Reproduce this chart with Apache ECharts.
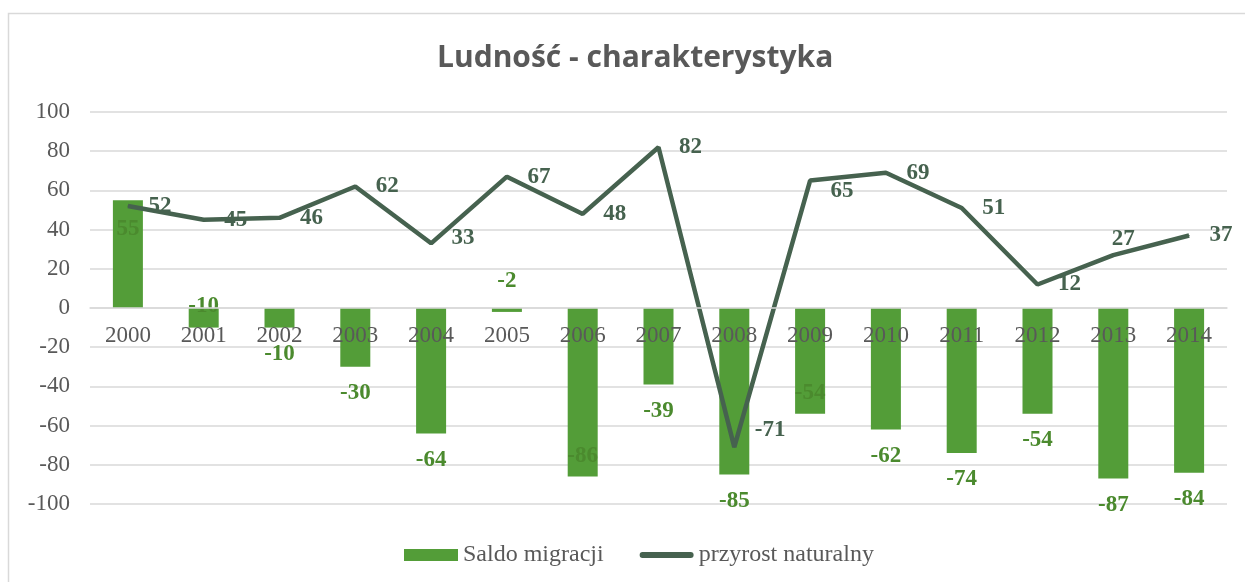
<!DOCTYPE html>
<html lang="pl">

<head>
    <meta charset="utf-8">
    <title>Ludność - charakterystyka</title>
    <script src="https://cdn.jsdelivr.net/npm/echarts@6/dist/echarts.min.js"></script>
    <style>
        html, body { margin: 0; padding: 0; background: #fff; }
        #main { width: 1245px; height: 582px; }
    </style>
</head>

<body>
    <div id="main"></div>
</body>

<script>
    // dane
    var lata = ['2000', '2001', '2002', '2003', '2004', '2005', '2006', '2007',
        '2008', '2009', '2010', '2011', '2012', '2013', '2014'];
    var saldoMigracji = [55, -10, -10, -30, -64, -2, -86, -39, -85, -54, -62, -74, -54, -87, -84];
    var przyrostNaturalny = [52, 45, 46, 62, 33, 67, 48, 82, -71, 65, 69, 51, 12, 27, 37];

    // polozenie etykiet (jak w oryginale z Excela)
    var pozycjeSlupkow = ['insideTop', 'top', 'bottom', 'bottom', 'bottom', 'top', 'insideBottom', 'bottom',
        'bottom', 'insideBottom', 'bottom', 'bottom', 'bottom', 'bottom', 'bottom'];
    var pozycjeLinii = ['right', 'right', 'right', 'right', 'right', 'right', 'right', 'right',
        'right', 'right', 'right', 'right', 'right', 'top', 'right'];

    var serif = '"Liberation Serif", "DejaVu Serif", serif';

    var daneSlupki = saldoMigracji.map(function (v, i) {
        var lab = { position: pozycjeSlupkow[i] };
        if (i == 0) lab.offset = [0, 2];
        if (i == 1) lab.offset = [0, 25];
        if (i == 6 || i == 9) lab.offset = [0, 6];
        return { value: v, label: lab };
    });
    var daneLinia = przyrostNaturalny.map(function (v, i) {
        var lab = { position: pozycjeLinii[i] };
        if (i == 4) lab.offset = [0, -5];
        if (i == 8) lab.offset = [0, -17];
        if (i == 9) lab.offset = [0, 10];
        if (i == 13) lab.offset = [10, 16];
        return { value: v, label: lab };
    });

    // ikona linii w legendzie: cienka kreska z zaokraglonymi koncami
    var ikonaLinii = 'path://M0,0h0.01v0.01h-0.01z M56,12h0.01v0.01h-0.01z ' +
        'M3,3 L53,3 A3,3 0 0 1 53,9 L3,9 A3,3 0 0 1 3,3 Z';

    var myChart = echarts.init(document.getElementById('main'));
    var option = {
        animation: false,
        title: {
            text: 'Ludność - charakterystyka',
            left: 432,
            top: 38,
            textStyle: {
                fontFamily: '"Open Sans", Lato, sans-serif',
                fontWeight: 'bold',
                fontSize: 30,
                color: '#595959'
            }
        },
        graphic: [{
            type: 'rect',
            shape: { x: 8.5, y: 13.5, width: 1260, height: 600 },
            style: { fill: 'none', stroke: '#d9d9d9', lineWidth: 1.5 },
            silent: true
        }],
        legend: {
            bottom: 10,
            left: 399,
            itemGap: 36,
            itemWidth: 54,
            itemHeight: 12,
            textStyle: { fontFamily: serif, fontSize: 24, color: '#595959' },
            data: [
                { name: 'Saldo migracji', icon: 'rect' },
                { name: 'przyrost naturalny', icon: ikonaLinii, itemStyle: { color: '#46624f' } }
            ]
        },
        grid: { left: 90, right: 18, top: 112, bottom: 78 },
        xAxis: {
            type: 'category',
            data: lata,
            position: 'bottom',
            offset: -196,
            z: 5,
            axisLine: { onZero: false, lineStyle: { color: '#d9d9d9', width: 1.5 } },
            axisTick: { show: false },
            axisLabel: { fontFamily: serif, fontSize: 23, color: '#595959', margin: 16 }
        },
        yAxis: {
            type: 'value',
            min: -100,
            max: 100,
            interval: 20,
            axisLine: { show: false },
            axisTick: { show: false },
            axisLabel: { fontFamily: serif, fontSize: 23, color: '#595959', margin: 20 },
            splitLine: { lineStyle: { color: '#d9d9d9', width: 1.5 } }
        },
        series: [{
            name: 'Saldo migracji',
            type: 'bar',
            barWidth: 30,
            data: daneSlupki,
            itemStyle: { color: '#539d38' },
            label: {
                show: true,
                distance: 15,
                fontFamily: serif,
                fontWeight: 'bold',
                fontSize: 23,
                color: '#4b8a2e'
            }
        }, {
            name: 'przyrost naturalny',
            type: 'line',
            data: daneLinia,
            symbol: 'circle',
            symbolSize: 1,
            showSymbol: true,
            lineStyle: { color: '#46624f', width: 4.5 },
            itemStyle: { color: '#46624f' },
            label: {
                show: true,
                distance: 20,
                fontFamily: serif,
                fontWeight: 'bold',
                fontSize: 23,
                color: '#46624f'
            },
            z: 3
        }]
    };
    myChart.setOption(option);
</script>

</html>
